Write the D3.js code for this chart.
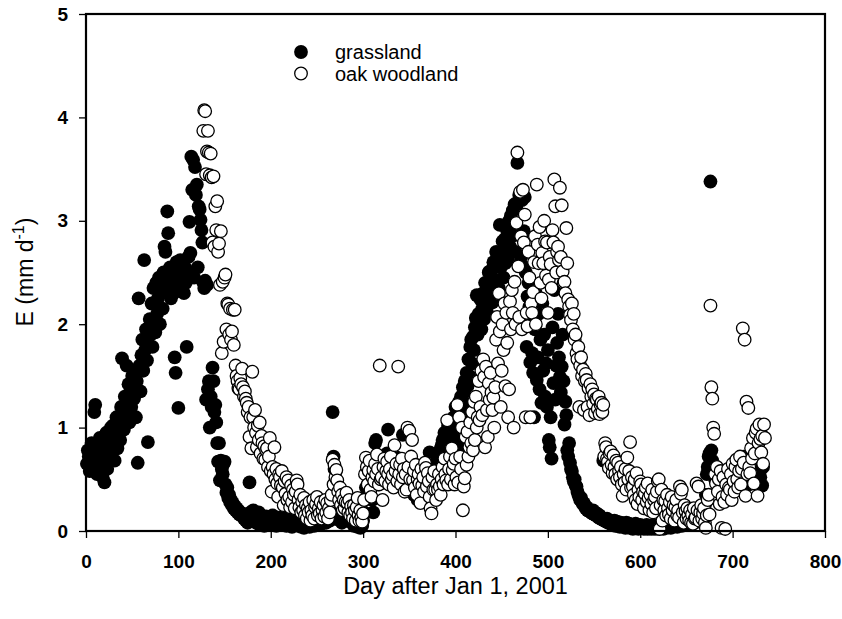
<!DOCTYPE html>
<html>
<head>
<meta charset="utf-8">
<script src="https://cdn.jsdelivr.net/npm/d3@7"></script>
<style>
  body { margin: 0; background: #fff; }
  svg { display: block; }
  text { font-family: "Liberation Sans", Arial, Helvetica, sans-serif; fill: #000; }
</style>
</head>
<body>
<svg id="chart" width="842" height="619"></svg>
<script>
// Axis ticks
const xTicks = [0, 100, 200, 300, 400, 500, 600, 700, 800];
const yTicks = [0, 1, 2, 3, 4, 5];
const seriesNames = ["grassland", "oak woodland"];

// Daily evapotranspiration E (mm/d), grassland site, first value is day 1
const grasslandStart = 1;
const grasslandE = [
  0.65, 0.78, 0.72, 0.58, 0.68, 0.85, 0.62, 0.75, 1.15, 1.22,   // 1-10
  0.70, 0.55, 0.80, 0.66, 0.90, 0.62, 0.78, 0.52, 0.84, 0.47,   // 11-20
  0.72, 0.95, 0.60, 0.82, 0.70, 0.88, 1.00, 0.76, 1.02, 0.85,   // 21-30
  0.68, 0.92, 1.10, 0.80, 0.95, 1.05, 0.88, 1.20, 1.67, 1.12,   // 31-40
  0.98, 1.30, 1.15, 1.60, 1.25, 1.42, 1.05, 1.35, 1.20, 1.50,   // 41-50
  1.38, 1.28, 1.55, 1.10, 1.45, 0.66, 2.25, 1.60, 1.35, 1.70,   // 51-60
  1.85, 1.55, 2.62, 1.75, 1.95, 1.65, 0.86, 1.80, 2.05, 1.90,   // 61-70
  2.20, 1.78, 2.35, 2.00, 1.92, 2.40, 2.10, 2.25, 2.45, 2.00,   // 71-80
  2.30, 2.38, 2.15, 2.50, 2.75, 2.70, 2.42, 3.09, 2.88, 2.35,   // 81-90
  2.55, 2.25, 2.48, 2.40, 2.30, 1.68, 1.53, 2.60, 2.45, 1.19,   // 91-100
  2.50, 2.62, 2.35, 2.58, 2.45, 2.30, 2.55, 2.40, 1.78, 2.50,   // 101-110
  2.65, 2.99, 2.69, 3.62, 3.30, 3.59, 2.45, 3.52, 3.25, 3.35,   // 111-120
  2.55, 3.14, 3.11, 3.01, 2.91, 2.79, 2.40, 2.35, 2.42, 1.27,   // 121-130
  2.38, 1.37, 1.45, 1.00, 1.30, 1.20, 1.58, 1.45, 1.15, 1.22,   // 131-140
  1.05, 0.85, 0.67, 0.85, 0.49, 0.68, 0.60, 0.55, 0.65, 0.67,   // 141-150
  0.45, 0.37, 0.42, 0.32, 0.35, 0.28, 0.30, 0.25, 0.27, 0.22,   // 151-160
  0.24, 0.20, 0.22, 0.18, 0.20, 0.16, 0.18, 0.15, 0.17, 0.14,   // 161-170
  0.12, 0.15, 0.10, 0.13, 0.08, 0.12, 0.47, 0.18, 0.10, 0.15,   // 171-180
  0.20, 0.12, 0.16, 0.08, 0.14, 0.10, 0.18, 0.06, 0.12, 0.15,   // 181-190
  0.09, 0.13, 0.05, 0.11, 0.14, 0.08, 0.10, 0.13, 0.06, 0.12,   // 191-200
  0.09, 0.15, 0.07, 0.10, 0.12, 0.05, 0.09, 0.13, 0.08, 0.11,   // 201-210
  0.06, 0.10, 0.14, 0.07, 0.09, 0.12, 0.05, 0.08, 0.10, 0.13,   // 211-220
  0.06, 0.09, 0.04, 0.08, 0.11, 0.06, 0.10, 0.07, 0.12, 0.05,   // 221-230
  0.08, 0.10, 0.04, 0.07, 0.09, 0.03, 0.06, 0.08, 0.05, 0.10,   // 231-240
  0.06, 0.04, 0.08, 0.12, 0.06, 0.09, 0.05, 0.14, 0.08, 0.11,   // 241-250
  0.06, 0.15, 0.09, 0.12, 0.07, 0.18, 0.10, 0.13, 0.16, 0.08,   // 251-260
  0.20, 0.12, 0.15, 0.10, 0.22, 0.35, 1.15, 0.72, 0.60, 0.30,   // 261-270
  0.20, 0.15, 0.12, 0.18, 0.10, 0.14, 0.08, 0.16, 0.12, 0.20,   // 271-280
  0.10, 0.15, 0.22, 0.12, 0.18, 0.10, 0.14, 0.08, 0.12, 0.05,   // 281-290
  0.10, 0.07, 0.12, 0.04, 0.09, 0.06, 0.03, 0.08, 0.05, 0.10,   // 291-300
  0.18, 0.30, 0.42, 0.35, 0.55, 0.48, 0.62, 0.40, 0.52, 0.30,   // 301-310
  0.18, 0.58, 0.85, 0.88, 0.50, 0.62, 0.45, 0.70, 0.55, 0.60,   // 311-320
  0.48, 0.72, 0.52, 0.65, 0.58, 0.75, 0.98, 0.70, 0.55, 0.62,   // 321-330
  0.48, 0.68, 0.50, 0.58, 0.72, 0.45, 0.60, 0.52, 0.66, 0.70,   // 331-340
  0.55, 0.62, 0.93, 0.58, 0.50, 0.45, 0.60, 0.40, 0.52, 0.48,   // 341-350
  0.38, 0.55, 0.42, 0.50, 0.35, 0.45, 0.40, 0.52, 0.30, 0.46,   // 351-360
  0.38, 0.50, 0.42, 0.55, 0.48, 0.62, 0.50, 0.58, 0.45, 0.66,   // 361-370
  0.55, 0.76, 0.60, 0.50, 0.62, 0.68, 0.58, 0.62, 0.52, 0.56,   // 371-380
  0.70, 0.64, 0.78, 0.68, 0.83, 0.88, 0.72, 0.95, 0.80, 0.95,   // 381-390
  0.85, 1.02, 0.90, 1.00, 0.78, 1.05, 0.91, 1.10, 0.95, 1.20,   // 391-400
  0.93, 1.17, 1.05, 1.25, 0.81, 1.30, 1.15, 1.39, 1.22, 1.45,   // 401-410
  1.30, 1.53, 1.40, 1.66, 1.50, 1.78, 1.85, 1.62, 1.88, 1.75,   // 411-420
  1.97, 2.06, 2.28, 1.90, 2.10, 2.02, 2.24, 1.95, 2.15, 2.30,   // 421-430
  2.05, 2.40, 2.20, 2.12, 2.22, 2.50, 2.51, 2.30, 2.45, 2.21,   // 431-440
  2.60, 2.38, 2.55, 2.70, 2.42, 2.65, 2.35, 2.96, 2.55, 2.67,   // 441-450
  2.80, 2.45, 2.82, 2.59, 2.72, 2.90, 2.62, 3.00, 2.75, 3.05,   // 451-460
  2.85, 3.10, 2.95, 3.16, 2.70, 3.12, 3.56, 2.90, 3.25, 3.22,   // 461-470
  2.65, 3.20, 2.56, 2.90, 3.23, 2.50, 1.78, 2.27, 2.40, 2.17,   // 471-480
  1.63, 2.05, 1.72, 1.53, 1.10, 1.95, 2.30, 1.46, 1.68, 2.10,   // 481-490
  1.37, 1.85, 1.24, 2.20, 1.55, 1.90, 1.30, 1.62, 1.20, 1.75,   // 491-500
  0.88, 0.81, 1.10, 0.70, 1.97, 1.43, 2.33, 1.27, 1.60, 1.82,   // 501-510
  2.10, 1.68, 1.49, 1.34, 1.59, 1.90, 1.45, 1.03, 1.25, 1.12,   // 511-520
  0.78, 0.72, 0.85, 0.66, 0.60, 0.58, 0.52, 0.48, 0.50, 0.44,   // 521-530
  0.43, 0.38, 0.35, 0.33, 0.30, 0.32, 0.28, 0.26, 0.27, 0.24,   // 531-540
  0.22, 0.23, 0.20, 0.21, 0.19, 0.20, 0.18, 0.17, 0.20, 0.16,   // 541-550
  0.17, 0.15, 0.17, 0.14, 0.13, 0.15, 0.12, 0.13, 0.11, 0.68,   // 551-560
  0.10, 0.11, 0.09, 0.12, 0.08, 0.10, 0.10, 0.07, 0.09, 0.06,   // 561-570
  0.08, 0.10, 0.05, 0.07, 0.09, 0.05, 0.06, 0.04, 0.08, 0.05,   // 571-580
  0.07, 0.04, 0.06, 0.03, 0.08, 0.05, 0.04, 0.07, 0.03, 0.06,   // 581-590
  0.05, 0.02, 0.06, 0.04, 0.07, 0.03, 0.05, 0.02, 0.04, 0.06,   // 591-600
  0.03, 0.05, 0.04, 0.02, 0.05, 0.03, 0.06, 0.02, 0.04, 0.03,   // 601-610
  0.05, 0.02, 0.04, 0.06, 0.03, 0.02, 0.05, 0.03, 0.04, 0.02,   // 611-620
  0.05, 0.03, 0.06, 0.04, 0.02, 0.05, 0.07, 0.03, 0.05, 0.04,   // 621-630
  0.08, 0.05, 0.03, 0.06, 0.04, 0.07, 0.05, 0.09, 0.06, 0.04,   // 631-640
  0.08, 0.06, 0.10, 0.07, 0.05, 0.09, 0.06, 0.11, 0.08, 0.06,   // 641-650
  0.10, 0.07, 0.12, 0.09, 0.06, 0.10, 0.13, 0.08, 0.11, 0.14,   // 651-660
  0.10, 0.12, 0.09, 0.15, 0.11, 0.18, 0.13, 0.20, 0.15, 0.25,   // 661-670
  0.35, 0.55, 0.62, 0.72, 0.75, 3.38, 0.78, 0.68, 0.58, 0.62,   // 671-680
  0.50, 0.55, 0.45, 0.52, 0.40, 0.48, 0.38, 0.44, 0.35, 0.42,   // 681-690
  0.30, 0.38, 0.33, 0.45, 0.36, 0.50, 0.40, 0.55, 0.42, 0.60,   // 691-700
  0.48, 0.65, 0.52, 0.58, 0.45, 0.62, 0.50, 0.70, 0.55, 0.66,   // 701-710
  0.58, 0.72, 0.60, 0.55, 0.68, 0.50, 0.62, 0.45, 0.70, 0.56,   // 711-720
  0.65, 0.52, 0.75, 0.60, 0.82, 0.68, 0.61, 0.88, 0.66, 0.52,   // 721-730
  0.60, 0.44, 0.62                                              // 731-733
];

// Daily evapotranspiration E (mm/d), oak woodland site, first value is day 127
const oakStart = 127;
const oakE = [
  3.87, 4.07, 4.06, 3.45,                                       // 127-130
  3.67, 3.87, 3.66, 3.44, 3.65, 3.42, 2.79, 3.43, 2.75, 3.14,   // 131-140
  2.91, 3.19, 2.70, 2.78, 2.38, 2.90, 1.72, 2.41, 1.83, 2.45,   // 141-150
  2.48, 1.95, 2.20, 2.19, 1.90, 2.15, 1.85, 1.93, 2.14, 1.80,   // 151-160
  2.14, 1.60, 1.50, 1.45, 1.38, 1.37, 1.48, 1.42, 1.57, 1.39,   // 161-170
  1.30, 1.35, 1.28, 1.24, 1.15, 1.20, 0.91, 1.10, 0.80, 1.54,   // 171-180
  1.10, 1.00, 1.17, 0.95, 0.81, 1.02, 0.88, 1.05, 0.75, 0.92,   // 181-190
  0.85, 0.70, 0.82, 0.69, 0.78, 0.80, 0.62, 0.72, 0.90, 0.58,   // 191-200
  0.38, 0.62, 0.55, 0.81, 0.50, 0.60, 0.46, 0.33, 0.55, 0.52,   // 201-210
  0.44, 0.58, 0.42, 0.25, 0.48, 0.36, 0.52, 0.30, 0.49, 0.33,   // 211-220
  0.23, 0.44, 0.28, 0.40, 0.35, 0.22, 0.38, 0.49, 0.45, 0.30,   // 221-230
  0.23, 0.35, 0.18, 0.28, 0.20, 0.32, 0.15, 0.25, 0.12, 0.22,   // 231-240
  0.18, 0.28, 0.10, 0.20, 0.15, 0.30, 0.12, 0.23, 0.26, 0.33,   // 241-250
  0.15, 0.22, 0.17, 0.28, 0.12, 0.20, 0.25, 0.14, 0.30, 0.18,   // 251-260
  0.27, 0.12, 0.22, 0.18, 0.30, 0.35, 0.69, 0.45, 0.64, 0.52,   // 261-270
  0.59, 0.49, 0.38, 0.30, 0.42, 0.25, 0.35, 0.20, 0.30, 0.22,   // 271-280
  0.28, 0.37, 0.27, 0.18, 0.30, 0.15, 0.24, 0.18, 0.12, 0.25,   // 281-290
  0.20, 0.10, 0.23, 0.32, 0.15, 0.10, 0.20, 0.13, 0.09, 0.17,   // 291-300
  0.30, 0.55, 0.71, 0.62, 0.45, 0.58, 0.68, 0.40, 0.33, 0.52,   // 301-310
  0.59, 0.48, 0.65, 0.55, 0.74, 0.60, 0.45, 1.60, 0.50, 0.52,   // 311-320
  0.30, 0.62, 0.70, 0.48, 0.58, 0.67, 0.55, 0.45, 0.60, 0.72,   // 321-330
  0.50, 0.54, 0.42, 0.83, 0.58, 0.65, 0.48, 1.59, 0.55, 0.64,   // 331-340
  0.45, 0.70, 0.52, 0.60, 0.38, 0.55, 0.40, 1.00, 0.62, 0.97,   // 341-350
  0.50, 0.72, 0.88, 0.49, 0.58, 0.42, 0.64, 0.35, 0.50, 0.55,   // 351-360
  0.46, 0.27, 0.60, 0.44, 0.52, 0.38, 0.66, 0.61, 0.43, 0.56,   // 361-370
  0.48, 0.33, 0.22, 0.17, 0.52, 0.40, 0.58, 0.40, 0.30, 0.45,   // 371-380
  0.40, 0.55, 0.43, 0.35, 0.50, 0.62, 0.45, 0.70, 0.55, 0.49,   // 381-390
  1.07, 0.45, 0.60, 0.72, 0.50, 0.80, 0.59, 0.65, 0.45, 0.70,   // 391-400
  0.52, 1.22, 0.47, 1.10, 0.72, 0.60, 1.00, 0.20, 0.43, 0.51,   // 401-410
  0.91, 0.64, 0.96, 0.72, 0.81, 1.05, 0.85, 1.15, 0.78, 1.25,   // 411-420
  0.88, 1.30, 1.00, 1.10, 1.45, 1.07, 1.20, 1.55, 1.12, 1.66,   // 421-430
  1.49, 0.81, 1.59, 1.17, 0.91, 1.43, 1.27, 1.53, 1.34, 1.17,   // 431-440
  1.29, 1.00, 1.39, 1.85, 2.07, 1.62, 2.30, 1.93, 1.20, 1.55,   // 441-450
  2.00, 1.75, 2.20, 1.40, 2.11, 1.82, 1.10, 1.37, 2.22, 1.95,   // 451-460
  2.33, 2.11, 1.00, 2.41, 2.00, 2.98, 3.66, 2.56, 2.07, 3.28,   // 461-470
  2.85, 1.95, 3.30, 2.79, 3.06, 1.10, 2.11, 1.98, 2.70, 2.45,   // 471-480
  1.10, 2.20, 2.11, 2.31, 2.60, 2.85, 2.00, 3.35, 2.77, 2.59,   // 481-490
  2.94, 2.40, 2.25, 2.69, 2.59, 3.00, 2.80, 2.47, 2.79, 2.11,   // 491-500
  2.43, 2.65, 2.58, 2.35, 2.91, 2.79, 3.40, 3.14, 2.50, 2.70,   // 501-510
  2.75, 2.62, 3.32, 2.65, 3.15, 2.51, 2.40, 2.41, 2.30, 2.93,   // 511-520
  2.59, 2.24, 2.17, 2.09, 2.04, 2.20, 1.95, 2.10, 1.85, 1.90,   // 521-530
  1.72, 1.66, 1.78, 1.20, 1.60, 1.68, 1.50, 1.56, 1.17, 1.45,   // 531-540
  1.52, 1.46, 1.20, 1.38, 1.12, 1.42, 1.30, 1.37, 1.23, 1.32,   // 541-550
  1.14, 1.28, 1.27, 1.18, 1.30, 1.13, 1.22, 1.24, 1.15, 1.22,   // 551-560
  0.72, 0.85, 0.81, 0.70, 0.67, 0.61, 0.75, 0.77, 0.64, 0.56,   // 561-570
  0.73, 0.62, 0.55, 0.68, 0.50, 0.66, 0.58, 0.52, 0.62, 0.45,   // 571-580
  0.34, 0.55, 0.47, 0.60, 0.40, 0.71, 0.50, 0.58, 0.86, 0.42,   // 581-590
  0.52, 0.43, 0.35, 0.50, 0.30, 0.56, 0.26, 0.40, 0.33, 0.48,   // 591-600
  0.45, 0.30, 0.38, 0.22, 0.36, 0.42, 0.28, 0.46, 0.32, 0.20,   // 601-610
  0.35, 0.26, 0.40, 0.18, 0.30, 0.33, 0.22, 0.38, 0.48, 0.50,   // 611-620
  0.02, 0.25, 0.40, 0.10, 0.30, 0.20, 0.29, 0.15, 0.35, 0.22,   // 621-630
  0.16, 0.28, 0.12, 0.33, 0.20, 0.25, 0.10, 0.23, 0.30, 0.15,   // 631-640
  0.20, 0.13, 0.43, 0.36, 0.40, 0.18, 0.08, 0.25, 0.19, 0.12,   // 641-650
  0.22, 0.15, 0.10, 0.20, 0.08, 0.16, 0.07, 0.22, 0.12, 0.13,   // 651-660
  0.46, 0.20, 0.43, 0.10, 0.18, 0.25, 0.12, 0.17, 0.22, 0.08,   // 661-670
  0.03, 0.15, 0.30, 0.35, 0.16, 2.18, 1.39, 1.28, 1.00, 0.94,   // 671-680
  0.55, 0.46, 0.62, 0.38, 0.50, 0.26, 0.58, 0.03, 0.33, 0.52,   // 681-690
  0.28, 0.02, 0.45, 0.35, 0.60, 0.42, 0.40, 0.55, 0.30, 0.65,   // 691-700
  0.48, 0.38, 0.62, 0.69, 0.50, 0.42, 0.58, 0.72, 0.45, 0.60,   // 701-710
  1.96, 0.66, 1.85, 0.34, 1.25, 0.55, 1.19, 0.62, 0.56, 0.80,   // 711-720
  0.70, 0.90, 0.46, 0.75, 0.95, 0.99, 0.34, 0.85, 1.03, 0.89,   // 721-730
  0.76, 0.92, 0.65, 1.03, 0.90                                  // 731-735
];

const grassland = grasslandE.map((e, i) => ({ day: grasslandStart + i, e }));
const oak = oakE.map((e, i) => ({ day: oakStart + i, e }));

const svg = d3.select("#chart");
const plot = { left: 86, right: 825, top: 14, bottom: 531 };

const x = d3.scaleLinear().domain([0, 800]).range([plot.left, plot.right]);
const y = d3.scaleLinear().domain([0, 5]).range([plot.bottom, plot.top]);

// Markers: grassland first, oak woodland drawn on top
svg.append("g").attr("class", "grassland")
  .selectAll("circle").data(grassland).join("circle")
  .attr("cx", d => x(d.day)).attr("cy", d => y(d.e))
  .attr("r", 6.9).attr("fill", "#000");

svg.append("g").attr("class", "oak")
  .selectAll("circle").data(oak).join("circle")
  .attr("cx", d => x(d.day)).attr("cy", d => y(d.e))
  .attr("r", 6.3).attr("fill", "#fff")
  .attr("stroke", "#000").attr("stroke-width", 1.3);

// Axes
const xAxis = svg.append("g")
  .attr("transform", `translate(0,${plot.bottom})`)
  .call(d3.axisBottom(x).tickValues(xTicks).tickFormat(d3.format("d"))
    .tickSize(7).tickPadding(17));
const yAxis = svg.append("g")
  .attr("transform", `translate(${plot.left},0)`)
  .call(d3.axisLeft(y).tickValues(yTicks).tickFormat(d3.format("d"))
    .tickSize(7).tickPadding(11));

[xAxis, yAxis].forEach(g => {
  g.select(".domain").remove();
  g.selectAll(".tick line").attr("stroke", "#000").attr("stroke-width", 1.3);
  g.selectAll(".tick text")
    .attr("font-family", "'Liberation Sans', Arial, sans-serif")
    .attr("font-size", 19).attr("font-weight", "bold").attr("fill", "#000");
});

// Plot frame
svg.append("rect")
  .attr("x", plot.left).attr("y", plot.top)
  .attr("width", plot.right - plot.left).attr("height", plot.bottom - plot.top)
  .attr("fill", "none").attr("stroke", "#000").attr("stroke-width", 2.2);

// Axis titles
svg.append("text")
  .attr("x", (plot.left + plot.right) / 2).attr("y", 594)
  .attr("text-anchor", "middle").attr("font-size", 23.5)
  .text("Day after Jan 1, 2001");

const yTitle = svg.append("text")
  .attr("transform", "translate(33,272) rotate(-90)")
  .attr("text-anchor", "middle").attr("font-size", 23);
yTitle.append("tspan").text("E (mm d");
yTitle.append("tspan").attr("font-size", 16).attr("dy", -9).text("-1");
yTitle.append("tspan").attr("dy", 9).text(")");

// Legend
const legend = svg.append("g").attr("transform", "translate(301,52)");
const items = legend.selectAll("g").data(seriesNames).join("g")
  .attr("transform", (d, i) => `translate(0,${i * 21.5})`);
items.append("circle")
  .attr("r", (d, i) => i === 0 ? 6.9 : 6.3)
  .attr("fill", (d, i) => i === 0 ? "#000" : "#fff")
  .attr("stroke", (d, i) => i === 0 ? "none" : "#000")
  .attr("stroke-width", 1.3);
items.append("text")
  .attr("x", 34).attr("dy", "0.35em").attr("font-size", 20)
  .text(d => d);
</script>
</body>
</html>
